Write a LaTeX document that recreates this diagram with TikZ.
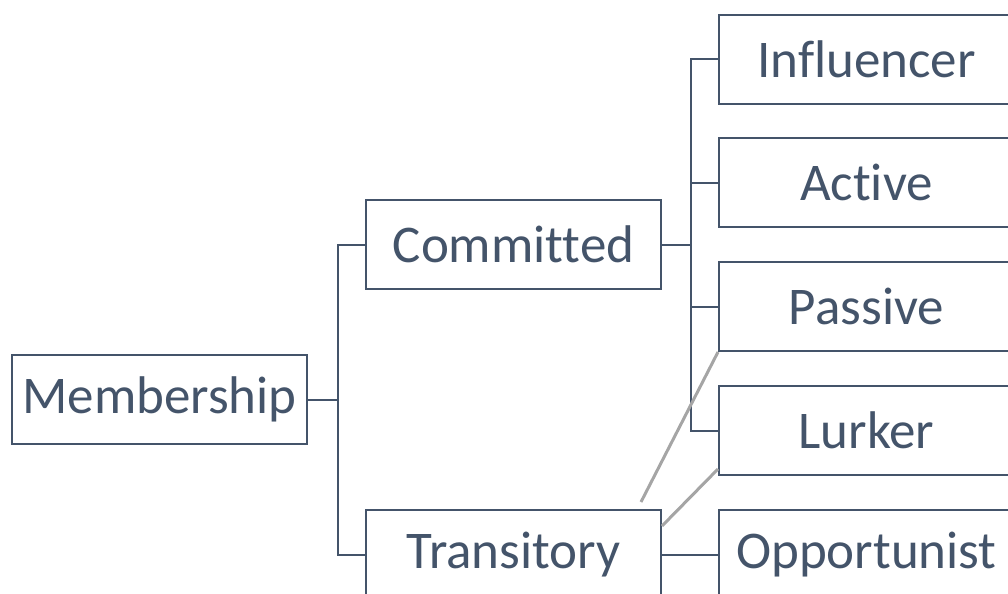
\documentclass[tikz,border=0pt]{standalone}
\usepackage{fontspec}
\setmainfont{Carlito}[Ligatures=NoCommon]
\usetikzlibrary{calc}
\definecolor{slate}{HTML}{44546A}
\definecolor{linkgray}{HTML}{A5A5A5}
\tikzset{
  box/.style={draw=slate, line width=1pt, text=slate, fill=white, minimum width=147.5pt, minimum height=44.5pt, inner sep=0pt, font=\fontsize{26.5}{30}\selectfont},
  elbow/.style={draw=slate, line width=1pt},
  cross/.style={draw=linkgray, line width=1.5pt},
}

\begin{document}
\begin{tikzpicture}[x=0.5pt,y=-0.5pt]
	\useasboundingbox (0,0) rectangle (1008,594);
	\clip (0,0) rectangle (1008,594);
	\node[box] (member) at (159.5,399.5) {Membership};
	\node[box] (commit) at (513.5,244.5) {Committed};
	\node[box] (trans) at (513.5,554.5) {Transitory};
	\node[box] (infl) at (866.5,59) {Influencer};
	\node[box] (act) at (866.5,182.5) {Active};
	\node[box] (pass) at (866.5,306.5) {Passive};
	\node[box] (lurk) at (866.5,430.5) {Lurker};
	\node[box] (opp) at (866.5,554.5) {Opportunist};
	\draw[elbow] (member.east) -- ++(30,0) |- (commit.west);
	\draw[elbow] (member.east) -- ++(30,0) |- (trans.west);
	\foreach \n in {infl,act,pass,lurk}
		\draw[elbow] (commit.east) -- ++(29,0) |- (\n.west);
	\draw[elbow] (trans.east) -- (opp.west);
	\draw[cross] ($(trans.north east)+(-21,-7)$) -- (pass.south west);
	\draw[cross] ($(trans.east)+(0,-28.5)$) -- ($(lurk.south west)+(0,-7)$);
\end{tikzpicture}
\end{document}
